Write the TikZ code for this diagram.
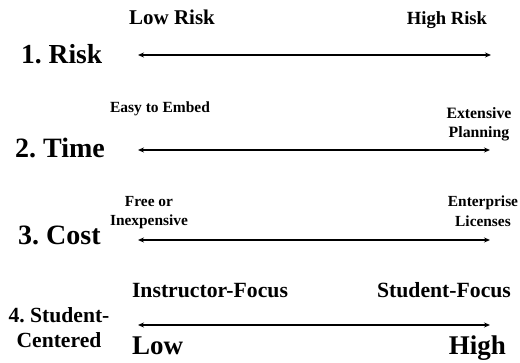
\documentclass[tikz,border=0pt]{standalone}
\usepackage{fontspec}
\setmainfont{Liberation Serif}
\usetikzlibrary{arrows.meta}
\frenchspacing
\tikzset{
  fs/.style={font=\bfseries\fontsize{#1}{#1}\selectfont, inner sep=0pt},
  arr/.style={line width=1.4pt, {Stealth[length=6pt,width=5pt]}-{Stealth[length=6pt,width=5pt]}},
}
\begin{document}
\begin{tikzpicture}[x=1pt,y=-1pt]
\useasboundingbox (0,0) rectangle (520,363);
% row 1
\node[fs=27.5, anchor=base west] (t1) at (21,64) {1. Risk};
\node[fs=21, anchor=base] (l1) at (172,25) {Low Risk};
\node[fs=18.6, anchor=base] (h1) at (447,25) {High Risk};
\coordinate (a1L) at (138,55);
\coordinate (a1R) at (491,55);
\draw[arr] (a1L) -- (a1R);
% row 2
\node[fs=28, anchor=base west] (t2) at (15,158) {2. Time};
\node[fs=15.5, anchor=base] (l2) at (160,113) {Easy to Embed};
\node[fs=15.8, anchor=base] (h2a) at (479,119) {Extensive};
\node[fs=15.8, anchor=base] (h2b) at (479,138) {Planning};
\coordinate (a2L) at (138,150);
\coordinate (a2R) at (490,150);
\draw[arr] (a2L) -- (a2R);
% row 3
\node[fs=28, anchor=base west] (t3) at (18,245) {3. Cost};
\node[fs=15.4, anchor=base] (l3a) at (149,207) {Free or};
\node[fs=15.4, anchor=base] (l3b) at (149,226) {Inexpensive};
\node[fs=15.4, anchor=base] (h3a) at (483,207) {Enterprise};
\node[fs=15.4, anchor=base] (h3b) at (483,227) {Licenses};
\coordinate (a3L) at (138,240);
\coordinate (a3R) at (490,240);
\draw[arr] (a3L) -- (a3R);
% row 4
\node[fs=21.6, anchor=base] (t4a) at (59,323) {4. Student-};
\node[fs=21.6, anchor=base] (t4b) at (59,348) {Centered};
\node[fs=21.7, anchor=base] (l4) at (210,298) {Instructor-Focus};
\node[fs=21.7, anchor=base] (h4) at (444,298) {Student-Focus};
\node[fs=27, anchor=base west] (l4b) at (132,355) {Low};
\node[fs=27, anchor=base east] (h4b) at (506,355) {High};
\coordinate (a4L) at (138,325);
\coordinate (a4R) at (490,325);
\draw[arr] (a4L) -- (a4R);
\end{tikzpicture}
\end{document}
